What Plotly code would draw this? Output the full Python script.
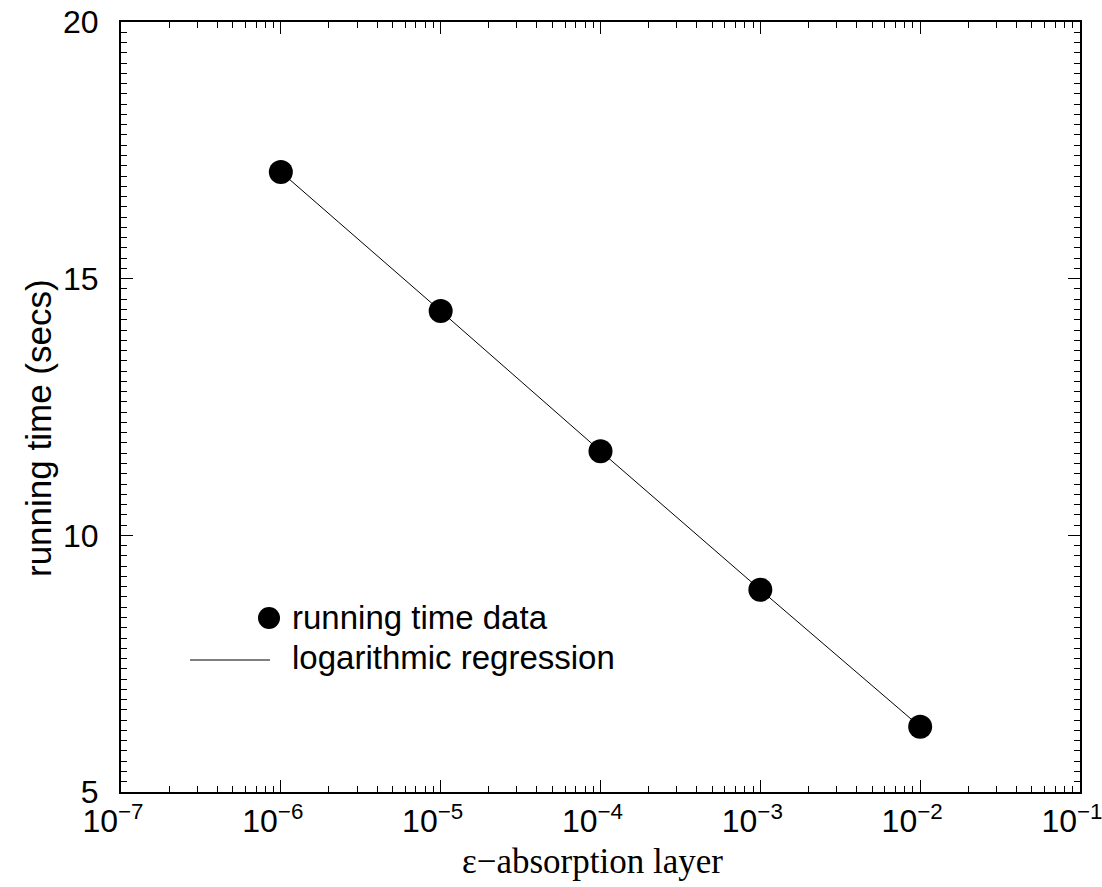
import plotly.graph_objects as go

eps = [1e-6, 1e-5, 1e-4, 1e-3, 1e-2]
run_time = [17.08, 14.37, 11.64, 8.94, 6.27]
reg_time = [17.08, 14.37, 11.64, 8.94, 6.27]

x_ticks = [1e-7, 1e-6, 1e-5, 1e-4, 1e-3, 1e-2, 1e-1]
x_labels = ["10<sup>−7</sup>", "10<sup>−6</sup>", "10<sup>−5</sup>", "10<sup>−4</sup>",
            "10<sup>−3</sup>", "10<sup>−2</sup>", "10<sup>−1</sup>"]
y_ticks = [5, 10, 15, 20]
legend_names = ["running time data", "logarithmic regression"]

W, H = 1102, 887
L, T = 121, 22
R = W - 1080
B = H - 792
pw, ph = W - L - R, H - T - B


def px(x):
    return (x - L) / pw


def py(y):
    return (H - B - y) / ph


sans = "Liberation Sans, Arial, sans-serif"
serif = "Liberation Serif, Times New Roman, serif"

fig = go.Figure()
fig.add_trace(go.Scatter(x=eps, y=reg_time, mode="lines", name=legend_names[1],
                         line=dict(color="black", width=1), showlegend=False))
fig.add_trace(go.Scatter(x=eps, y=run_time, mode="markers", name=legend_names[0],
                         marker=dict(color="black", size=24), showlegend=False))

# manual legend
fig.add_shape(type="circle", xref="paper", yref="paper", xsizemode="pixel", ysizemode="pixel",
              xanchor=px(269), yanchor=py(618), x0=-11, x1=11, y0=-11, y1=11,
              fillcolor="black", line=dict(color="black", width=0))
fig.add_shape(type="line", xref="paper", yref="paper", x0=px(190), x1=px(270), y0=py(660), y1=py(660),
              line=dict(color="black", width=1))
fig.add_annotation(x=px(290), y=py(617), xref="paper", yref="paper", text=legend_names[0],
                   showarrow=False, xanchor="left", yanchor="middle", font=dict(family=sans, size=33))
fig.add_annotation(x=px(290), y=py(657), xref="paper", yref="paper", text=legend_names[1],
                   showarrow=False, xanchor="left", yanchor="middle", font=dict(family=sans, size=33))

# axis titles
fig.add_annotation(x=px(592), y=py(862), xref="paper", yref="paper", text="ε−absorption layer",
                   showarrow=False, xanchor="center", yanchor="middle", font=dict(family=serif, size=35))
fig.add_annotation(x=px(38), y=py(428), xref="paper", yref="paper", text="running time (secs)",
                   showarrow=False, xanchor="center", yanchor="middle", textangle=-90,
                   font=dict(family=sans, size=35))

fig.update_layout(
    width=W, height=H,
    margin=dict(l=L, r=R, t=T, b=B),
    plot_bgcolor="white", paper_bgcolor="white",
    font=dict(family=sans, size=32, color="black"),
    showlegend=False,
    xaxis=dict(type="log", range=[-7, -1], tickvals=x_ticks, ticktext=x_labels,
               ticks="inside", ticklen=12, tickwidth=1, tickcolor="black",
               showline=True, linecolor="black", linewidth=2, mirror="allticks",
               showgrid=False, zeroline=False, automargin=False, ticklabeloverflow="allow",
               minor=dict(ticks="inside", ticklen=6, tickwidth=1, tickcolor="black", dtick="D1", showgrid=False),
               tickfont=dict(size=32, family=sans), ticklabelshift=-8),
    yaxis=dict(range=[5, 20], tickvals=y_ticks,
               ticks="inside", ticklen=12, tickwidth=1, tickcolor="black",
               showline=True, linecolor="black", linewidth=2, mirror="allticks",
               showgrid=False, zeroline=False, automargin=False, ticklabeloverflow="allow",
               minor=dict(ticks="inside", ticklen=6, tickwidth=1, tickcolor="black", dtick=0.2, showgrid=False),
               tickfont=dict(size=32, family=sans), ticklabelstandoff=14),
)

fig.write_html("out.html", config={"displayModeBar": False},
               post_script="document.body.style.margin='0';")
